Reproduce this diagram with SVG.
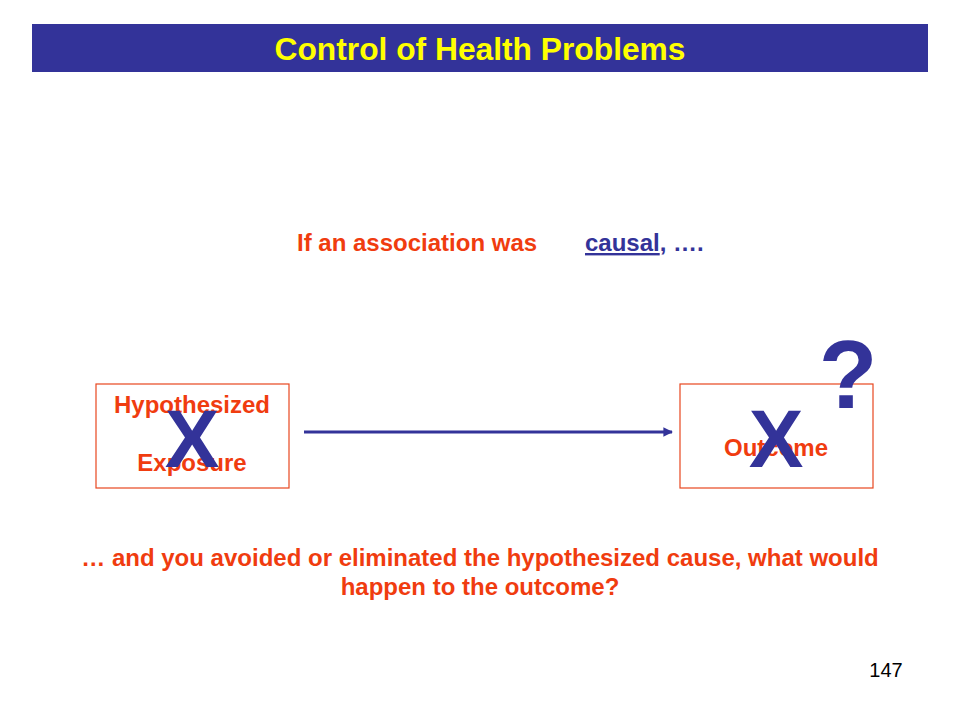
<svg xmlns="http://www.w3.org/2000/svg" width="960" height="720" viewBox="0 0 960 720">
<style>
.t{font-family:"Liberation Sans",Arial,sans-serif;font-weight:bold}
.red{fill:#F03C0F}
.blue{fill:#333399}
.box{fill:#fff;stroke:#E8471F;stroke-width:1.2}
</style>
<defs>
<marker id="ah" viewBox="0 0 10 10" refX="9" refY="5" markerWidth="3.2" markerHeight="3.2" orient="auto" markerUnits="strokeWidth">
<path d="M0,0 L10,5 L0,10 z" fill="#333399"/>
</marker>
</defs>
<rect width="960" height="720" fill="#fff"/>
<g id="title">
<rect x="32" y="24" width="896" height="48" fill="#333399"/>
<text class="t" x="480" y="60" font-size="32" fill="#FFFF00" text-anchor="middle" textLength="411" lengthAdjust="spacingAndGlyphs">Control of Health Problems</text>
</g>
<g id="intro">
<text class="t red" x="297" y="251" font-size="24">If an association was</text>
<text class="t blue" x="585" y="251" font-size="24"><tspan text-decoration="underline">causal</tspan>, ….</text>
</g>
<g id="connectors">
<line x1="304" y1="432" x2="672" y2="432" stroke="#333399" stroke-width="3" marker-end="url(#ah)"/>
</g>
<g id="exposure">
<rect class="box" x="96" y="384" width="193" height="104"/>
<text class="t red" x="192" y="413" font-size="24" text-anchor="middle">Hypothesized</text>
<text class="t red" x="192" y="471" font-size="24" text-anchor="middle">Exposure</text>
<text class="t blue" x="192" y="467" font-size="82" text-anchor="middle">X</text>
</g>
<g id="outcome">
<rect class="box" x="680" y="384" width="193" height="104"/>
<text class="t red" x="776" y="456" font-size="24" text-anchor="middle">Outcome</text>
<text class="t blue" x="776" y="467" font-size="82" text-anchor="middle">X</text>
<text class="t blue" x="848" y="408" font-size="96" text-anchor="middle">?</text>
</g>
<g id="question">
<text class="t red" x="480" y="566" font-size="24" text-anchor="middle">… and you avoided or eliminated the hypothesized cause, what would</text>
<text class="t red" x="480" y="595" font-size="24" text-anchor="middle">happen to the outcome?</text>
</g>
<text x="886" y="677" font-family="Liberation Sans,Arial,sans-serif" font-size="20" fill="#000" text-anchor="middle">147</text>
</svg>
